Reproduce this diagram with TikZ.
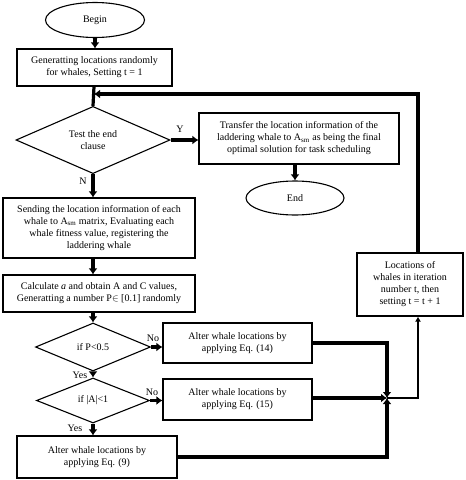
\documentclass[tikz,border=0pt]{standalone}
\usepackage{fontspec}
\setmainfont{Liberation Serif}
\usetikzlibrary{shapes.geometric,arrows.meta}
\tikzset{
  box/.style={draw, line width=1.1pt, rectangle, align=center, inner sep=1pt},
  oval/.style={draw, line width=1.1pt, ellipse, inner sep=0pt},
  test/.style={draw, line width=1.1pt, diamond, align=center, inner sep=0pt},
  flow/.style={line width=3.2pt, -{Latex[length=6pt,width=9pt]}},
  link/.style={line width=3.2pt},
  tag/.style={inner sep=0pt}
}
\begin{document}
\begin{tikzpicture}[x=1pt, y=-1pt, font=\fontsize{10}{12}\selectfont]
\useasboundingbox (0,0) rectangle (466,480);

% Start and initialisation
\node[oval, minimum width=99pt, minimum height=35pt] (begin) at (95,20) {Begin};
\node[box, minimum width=155pt, minimum height=37pt] (init) at (94.5,67.5)
  {Generatting locations randomly\\for whales, Setting t = 1};

% End test
\node[test, minimum width=154pt, minimum height=66pt] (endtest) at (93,140)
  {Test the end\\clause};
\node[box, minimum width=200pt, minimum height=51pt] (transfer) at (299,138.5)
  {Transfer the location information of the\\laddering whale to A\textsubscript{sm} as being the final\\optimal solution for task scheduling};
\node[oval, minimum width=98pt, minimum height=34pt] (end) at (295,198) {End};

% Evaluation
\node[box, minimum width=192pt, minimum height=60pt] (send) at (99,228)
  {Sending the location information of each\\whale to A\textsubscript{sm} matrix, Evaluating each\\whale fitness value, registering the\\laddering whale};
\node[box, minimum width=192pt, minimum height=37pt] (calc) at (99,293.5)
  {Calculate \textit{a} and obtain A and C values,\\Generatting a number P$\in$ [0.1] randomly};

% Update choices
\node[test, minimum width=115pt, minimum height=48pt] (ptest) at (93,347) {if P<0.5};
\node[box, minimum width=149pt, minimum height=40pt] (eqa) at (237.5,343)
  {Alter whale locations by\\applying Eq. (14)};
\node[test, minimum width=113pt, minimum height=45pt] (atest) at (93,400.5) {if |A|<1};
\node[box, minimum width=149pt, minimum height=41pt] (eqb) at (237.5,399.5)
  {Alter whale locations by\\applying Eq. (15)};
\node[box, minimum width=160pt, minimum height=42pt] (eqc) at (97,457)
  {Alter whale locations by\\applying Eq. (9)};

% Next iteration
\node[box, minimum width=106pt, minimum height=63pt] (next) at (410,284.5)
  {Locations of\\whales in iteration\\number t, then\\setting t = t + 1};
\coordinate (join) at (387,398);
\coordinate (rcol) at (418,0);
\coordinate (back) at (94,94);

% Branch labels
\node[tag] (ylab) at (180,129) {Y};
\node[tag] (nlab) at (83,181) {N};
\node[tag] (nolab1) at (153,338) {No};
\node[tag] (yeslab1) at (80,375) {Yes};
\node[tag] (nolab2) at (152,392) {No};
\node[tag] (yeslab2) at (75,428) {Yes};

% Main column
\draw[flow] (begin.south) -- (begin.south |- init.north);
\draw[link] (init.south -| back) -- (endtest.north);
\draw[flow] (endtest.east) -- (transfer.west |- endtest.east);
\draw[flow] (end.north |- transfer.south) -- (end.north);
\draw[flow] (endtest.south) -- (endtest.south |- send.north);
\draw[flow] (endtest.south |- send.south) -- (endtest.south |- calc.north);
\draw[flow] (endtest.south |- calc.south) -- (ptest.north);
\draw[flow] (ptest.south) -- (atest.north);
\draw[flow] (atest.south) -- (atest.south |- eqc.north);
\draw[flow] (ptest.east) -- (eqa.west |- ptest.east);
\draw[flow] (atest.east) -- (eqb.west |- atest.east);

% Gathering the updates
\draw[flow] (eqa.east) -| (join);
\draw[flow] (eqb.east |- join) -- (join);
\draw[flow] (eqc.east) -| (join);
\draw[line width=2.2pt, -{Latex[length=5pt,width=6pt]}] (join) -| (next.south -| rcol);
\draw[flow] (next.north -| rcol) |- (back);

\end{tikzpicture}
\end{document}
